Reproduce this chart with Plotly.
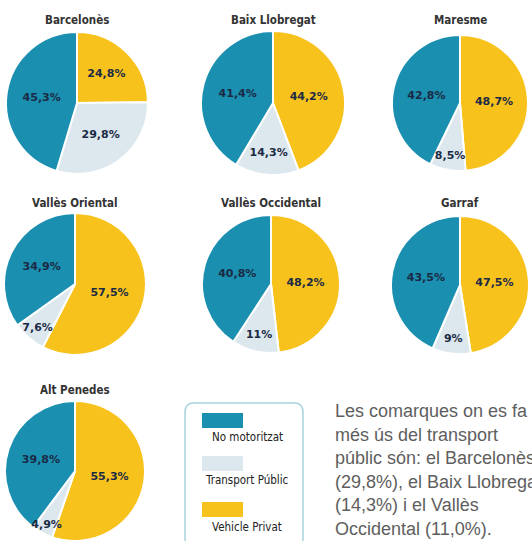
import plotly.graph_objects as go

# ---------------- data ----------------
regions = ["Barcelonès", "Baix Llobregat", "Maresme",
           "Vallès Oriental", "Vallès Occidental", "Garraf", "Alt Penedes"]
categories = ["Vehicle Privat", "Transport Públic", "No motoritzat"]
vehicle_privat = [24.8, 44.2, 48.7, 57.5, 48.2, 47.5, 55.3]
transport_public = [29.8, 14.3, 8.5, 7.6, 11.0, 9.0, 4.9]
no_motoritzat = [45.3, 41.4, 42.8, 34.9, 40.8, 43.5, 39.8]
legend_labels = ["No motoritzat", "Transport Públic", "Vehicle Privat"]
para_lines = ["Les comarques on es fa", "més ús del transport",
              "públic són: el Barcelonès", "(29,8%), el Baix Llobregat",
              "(14,3%) i el Vallès", "Occidental (11,0%)."]

# ---------------- style / layout ----------------
W, H = 532, 541
COL = {"Vehicle Privat": "#F8C21D", "Transport Públic": "#DCE7EE",
       "No motoritzat": "#1A8FB0"}
COND = "DejaVu Sans Condensed, DejaVu Sans, sans-serif"
WIDE = "DejaVu Sans, sans-serif"
centers_x = [77, 273, 460, 75, 271, 460, 75]
centers_y = [103, 103, 103, 284, 284, 285, 471]
radii = [71, 72, 68, 71, 69, 69, 70]
title_y = [20, 20, 20, 203, 203, 203, 390]


def fmt(v):
    if abs(v - round(v)) < 1e-9:
        return f"{int(round(v))}%"
    return f"{v:.1f}".replace(".", ",") + "%"


def px(x):
    return x / W


def py(y):
    return 1 - y / H


fig = go.Figure()
for i, name in enumerate(regions):
    vals = [vehicle_privat[i], transport_public[i], no_motoritzat[i]]
    cx, cy, r = centers_x[i], centers_y[i], radii[i]
    dom = dict(x=[max(0, px(cx - r)), min(1, px(cx + r))],
               y=[max(0, py(cy + r)), min(1, py(cy - r))])
    common = dict(labels=categories, values=vals, sort=False,
                  direction="clockwise", rotation=0, domain=dom,
                  showlegend=False, name=name)
    # slices
    fig.add_trace(go.Pie(
        **common, textinfo="none",
        marker=dict(colors=[COL[c] for c in categories],
                    line=dict(color="white", width=2)),
        hoverinfo="label+value"))
    # labels drawn on top of every slice
    fig.add_trace(go.Pie(
        **common, text=[fmt(v) for v in vals], textinfo="text",
        marker=dict(colors=["rgba(0,0,0,0)"] * 3, line=dict(width=0)),
        textposition="inside", insidetextorientation="horizontal",
        textfont=dict(family=WIDE, size=11, color="#1B2A44", weight="bold"),
        hoverinfo="skip"))
    fig.add_annotation(x=px(cx), y=py(title_y[i]), xref="paper", yref="paper",
                       text=f"<b>{name}</b>", showarrow=False,
                       xanchor="center", yanchor="middle",
                       font=dict(family=COND, size=11.5, color="#333333"))

# legend box
x0, x1, y0, y1, rr = 185, 303, 403, 560, 9
path = (f"M {px(x0+rr)} {py(y0)} L {px(x1-rr)} {py(y0)} "
        f"Q {px(x1)} {py(y0)} {px(x1)} {py(y0+rr)} L {px(x1)} {py(y1-rr)} "
        f"Q {px(x1)} {py(y1)} {px(x1-rr)} {py(y1)} L {px(x0+rr)} {py(y1)} "
        f"Q {px(x0)} {py(y1)} {px(x0)} {py(y1-rr)} L {px(x0)} {py(y0+rr)} "
        f"Q {px(x0)} {py(y0)} {px(x0+rr)} {py(y0)} Z")
fig.add_shape(type="path", path=path, xref="paper", yref="paper",
              line=dict(color="#A6D3DF", width=1.5), fillcolor="white")

sw_y = [413, 456, 502]
lab_y = [437, 480, 527]
for k, lab in enumerate(legend_labels):
    fig.add_shape(type="rect", xref="paper", yref="paper",
                  x0=px(202), x1=px(243), y0=py(sw_y[k] + 15), y1=py(sw_y[k]),
                  line=dict(width=0), fillcolor=COL[lab])
    fig.add_annotation(x=px(247), y=py(lab_y[k]), xref="paper", yref="paper",
                       text=lab, showarrow=False, xanchor="center",
                       yanchor="middle",
                       font=dict(family=COND, size=11.5, color="#222222"))

for k, line in enumerate(para_lines):
    fig.add_annotation(x=px(333), y=py(411 + 23.6 * k), xref="paper",
                       yref="paper", text=line, showarrow=False,
                       xanchor="left", yanchor="middle",
                       font=dict(family="Liberation Sans, Arial, sans-serif",
                                 size=18, color="#5E5E5E"))

fig.update_layout(width=W, height=H, margin=dict(l=0, r=0, t=0, b=0),
                  paper_bgcolor="white", plot_bgcolor="white",
                  uniformtext=dict(minsize=11, mode="show"))
fig.write_html("out.html", config={"displayModeBar": False},
               post_script="document.body.style.margin='0';"
                           "document.body.style.overflow='hidden';")
